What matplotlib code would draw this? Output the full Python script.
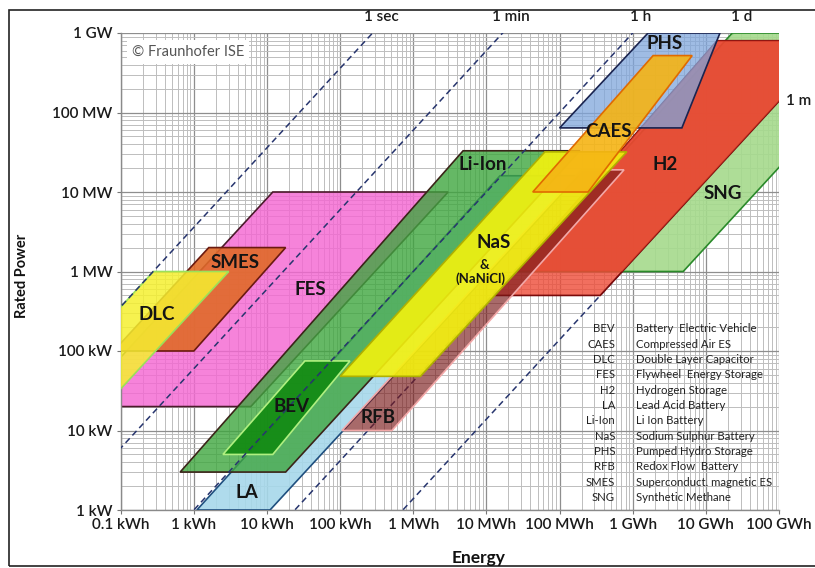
import numpy as np
import matplotlib
matplotlib.use("Agg")
import matplotlib.pyplot as plt
from matplotlib.patches import Polygon, Rectangle
from matplotlib.colors import to_rgba
from matplotlib.ticker import FixedLocator, LogLocator, NullFormatter, FixedFormatter

plt.rcParams['font.family'] = ['Lato', 'DejaVu Sans']

# ---- axes ticks ---------------------------------------------------------
energy_ticks = [0.1, 1, 10, 100, 1e3, 1e4, 1e5, 1e6, 1e7, 1e8]          # kWh
energy_labels = ['0.1 kWh', '1 kWh', '10 kWh', '100 kWh', '1 MWh', '10 MWh',
                 '100 MWh', '1 GWh', '10 GWh', '100 GWh']
power_ticks = [1, 10, 100, 1e3, 1e4, 1e5, 1e6]                           # kW
power_labels = ['1 kW', '10 kW', '100 kW', '1 MW', '10 MW', '100 MW', '1 GW']

# ---- discharge-time reference lines (hours) -----------------------------
line_hours = [1 / 3600, 1 / 60, 1, 24, 720]
line_names = ['1 sec', '1 min', '1 h', '1 d', '1 m']

# ---- technology regions: corner energy [kWh] / power [kW] ----------------
fes_energy = [0.024, 6, 3000, 12]
fes_power = [20, 20, 1e4, 1e4]

smes_energy = [0.08, 1.0, 18, 1.6]
smes_power = [100, 100, 2000, 2000]

dlc_energy = [0.0028, 0.03, 3.0, 0.28]
dlc_power = [10, 10, 1000, 1000]

la_energy = [1.1, 11, 1.8e5, 15300]
la_power = [1, 1, 16000, 16000]

li_energy = [0.65, 18, 1.9e5, 4800]
li_power = [3, 3, 33000, 33000]

bev_energy = [2.5, 12, 136, 33]
bev_power = [5, 5, 75, 75]

sng_energy = [24000, 4.9e6, 4.9e9, 2.3e7]
sng_power = [1000, 1000, 1e6, 1e6]

h2_energy = [13000, 3.6e5, 5.76e8, 1.42e7]
h2_power = [500, 500, 8e5, 8e5]

h2_upper_energy = [25000, 7.2e5, 5.76e8, 1.42e7]
h2_upper_power = [1000, 1000, 8e5, 8e5]

rfb_energy = [106, 510, 7.6e5, 2.0e5]
rfb_power = [10, 10, 19000, 19000]

nas_energy = [100, 1250, 8.3e5, 63000]
nas_power = [48, 48, 32000, 32000]

phs_energy = [1.0e5, 4.7e6, 1.56e7, 1.62e6]
phs_power = [64000, 64000, 1e6, 1e6]

caes_energy = [43000, 2.45e5, 6.5e6, 1.9e6]
caes_power = [1e4, 1e4, 5.2e5, 5.2e5]

# ---- legend ---------------------------------------------------------------
legend_abbr = ['BEV', 'CAES', 'DLC', 'FES', 'H2', 'LA', 'Li-Ion', 'NaS', 'PHS',
               'RFB', 'SMES', 'SNG']
legend_text = ['Battery  Electric Vehicle', 'Compressed Air ES',
               'Double Layer Capacitor', 'Flywheel  Energy Storage',
               'Hydrogen Storage', 'Lead Acid Battery', 'Li Ion Battery',
               'Sodium Sulphur Battery', 'Pumped Hydro Storage',
               'Redox Flow  Battery', 'Superconduct. magnetic ES',
               'Synthetic Methane']

W, H = 815, 568
fig = plt.figure(figsize=(W / 100, H / 100), dpi=100)
ax = fig.add_axes([120.7 / W, 1 - 510 / H, 658.3 / W, 477 / H])
ax.set_xscale('log')
ax.set_yscale('log')
ax.set_xlim(0.1, 1e8)
ax.set_ylim(1, 1e6)

# grid
ax.xaxis.set_major_locator(FixedLocator(energy_ticks))
ax.xaxis.set_major_formatter(FixedFormatter(energy_labels))
ax.yaxis.set_major_locator(FixedLocator(power_ticks))
ax.yaxis.set_major_formatter(FixedFormatter(power_labels))
ax.xaxis.set_minor_locator(LogLocator(base=10, subs=np.arange(2, 10), numticks=40))
ax.yaxis.set_minor_locator(LogLocator(base=10, subs=np.arange(2, 10), numticks=40))
ax.xaxis.set_minor_formatter(NullFormatter())
ax.yaxis.set_minor_formatter(NullFormatter())
ax.grid(which='major', color='#8e8e8e', lw=0.9, zorder=0)
ax.grid(which='minor', color='#bdbdbd', lw=0.7, zorder=0)
ax.set_axisbelow(True)
ax.tick_params(which='minor', length=0)
ax.tick_params(which='major', length=3, color='#777777', pad=3,
               labelsize=11, labelcolor='#1a1a1a')
for lab in ax.get_xticklabels() + ax.get_yticklabels():
    lab.set_fontweight('semibold')
for s in ['top', 'right']:
    ax.spines[s].set_visible(False)
for s in ['left', 'bottom']:
    ax.spines[s].set_color('#8a8a8a')
    ax.spines[s].set_linewidth(1.0)


def region(energy, power, face, alpha, edge, z):
    ax.add_patch(Polygon(np.column_stack([energy, power]), closed=True,
                         fc=to_rgba(face, alpha), ec=edge, lw=1.2, zorder=z))


region(fes_energy, fes_power, '#f468d2', 0.82, '#4a1a2a', 2)
region(smes_energy, smes_power, '#e06a28', 0.9, '#6a1a10', 3)
region(dlc_energy, dlc_power, '#f5f030', 0.85, '#9be05a', 4)
region(la_energy, la_power, '#a6d8ea', 0.9, '#1f4f7f', 5)
region(li_energy, li_power, '#3fa63f', 0.8, '#3a2418', 6)
region(bev_energy, bev_power, '#118a11', 0.9, '#b0f080', 7)

# discharge-time lines
e_span = np.array([1e-3, 1e10])
for t, name in zip(line_hours, line_names):
    ax.plot(e_span, e_span / t, ls=(0, (4, 2.6)), color='#27356e', lw=1.1,
            zorder=8)
    if name == '1 m':
        ax.text(1e8 * 1.25, 1e8 / t, name, ha='left', va='center',
                fontsize=11, fontweight='semibold', color='#1a1a1a',
                clip_on=False)
    else:
        ax.text(t * 1e6 * 1.3, 1.6e6, name, ha='center', va='center',
                fontsize=11, fontweight='semibold', color='#1a1a1a',
                clip_on=False)

region(sng_energy, sng_power, '#a5da8c', 0.9, '#2a8a2a', 9)
region(h2_energy, h2_power, '#ee4b37', 0.8, '#7a0a0a', 10)
region(h2_upper_energy, h2_upper_power, '#e8452f', 0.7, 'none', 11)
region(rfb_energy, rfb_power, '#7a1a1a', 0.65, '#f2a8a8', 12)
region(nas_energy, nas_power, '#f4f20e', 0.9, '#b0b000', 13)
region(phs_energy, phs_power, '#7fa6dc', 0.75, '#1a2450', 14)
region(caes_energy, caes_power, '#f5b414', 0.9, '#e06a00', 15)

# region names
label_kw = dict(ha='center', va='center', fontweight='bold', color='#141414',
                zorder=20)
ax.text(3.65, 1316, 'SMES', fontsize=13.5, **label_kw)
ax.text(0.313, 284, 'DLC', fontsize=13.5, **label_kw)
ax.text(38.7, 602, 'FES', fontsize=13.5, **label_kw)
ax.text(21.9, 19.8, 'BEV', fontsize=13.5, **label_kw)
ax.text(5.33, 1.64, 'LA', fontsize=13.5, **label_kw)
ax.text(329, 14.4, 'RFB', fontsize=13.5, **label_kw)
ax.text(8970, 21900, 'Li-Ion', fontsize=13.5, **label_kw)
ax.text(12700, 2350, 'NaS', fontsize=13.5, **label_kw)
ax.text(9270, 1208, '&', fontsize=9.5, **label_kw)
ax.text(8430, 805, '(NaNiCl)', fontsize=9.5, **label_kw)
ax.text(4.61e5, 56900, 'CAES', fontsize=13.5, **label_kw)
ax.text(2.75e6, 22500, 'H2', fontsize=13.5, **label_kw)
ax.text(1.71e7, 9440, 'SNG', fontsize=13.5, **label_kw)
ax.text(2.75e6, 7.28e5, 'PHS', fontsize=13.5, **label_kw)

# copyright note
ax.text(0.017, 0.960, '\u00a9 Fraunhofer ISE', transform=ax.transAxes,
        ha='left', va='center', fontsize=10.5, color='#555555', zorder=20,
        bbox=dict(boxstyle='square,pad=0.35', fc='white', ec='none'))

# abbreviation table
row0 = (510 - 329) / 477
step = 15.3 / 477
for i, (a, d) in enumerate(zip(legend_abbr, legend_text)):
    y = row0 - i * step
    ax.text(0.751, y, a, transform=ax.transAxes, ha='right', va='center',
            fontsize=8.2, color='#222222', zorder=20)
    ax.text(0.783, y, d, transform=ax.transAxes, ha='left', va='center',
            fontsize=8.2, color='#222222', zorder=20)

# axis titles
fig.text(479 / W, 1 - 558 / H, 'Energy', ha='center', va='center',
         fontsize=12.5, fontweight='bold', color='#111111')
fig.text(22 / W, 1 - 275.5 / H, 'Rated Power', ha='center', va='center',
         rotation=90, fontsize=10.5, fontweight='bold', color='#111111')

# outer frame
fig.add_artist(Rectangle((9 / W, 2 / H), 1.0, (566 - 10) / H,
                         transform=fig.transFigure, fill=False,
                         ec='#222222', lw=1.2))

fig.savefig('out.png', dpi=100)
